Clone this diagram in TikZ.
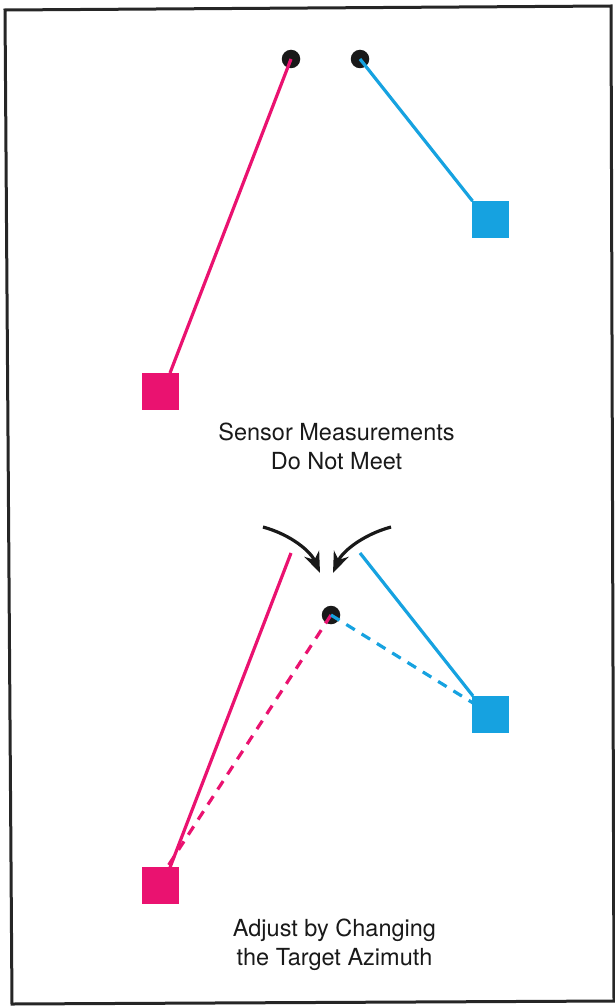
\documentclass[tikz,border=0pt]{standalone}
\usepackage{fontspec}
\setmainfont{TeX Gyre Heros}
\usetikzlibrary{arrows.meta}
\definecolor{pinkc}{RGB}{234,18,112}
\definecolor{bluec}{RGB}{22,162,224}
\tikzset{
  frame/.style={line width=3pt, draw=black!85},
  pinkline/.style={draw=pinkc, line width=3.2pt},
  blueline/.style={draw=bluec, line width=3.2pt},
  pinkdash/.style={pinkline, dash pattern=on 10pt off 8pt},
  bluedash/.style={blueline, dash pattern=on 10pt off 8pt},
  pinksq/.style={fill=pinkc, draw=none, minimum size=37pt, inner sep=0pt},
  bluesq/.style={fill=bluec, draw=none, minimum size=37pt, inner sep=0pt},
  dot/.style={circle, fill=black!90, draw=none, minimum size=18.5pt, inner sep=0pt},
  caption/.style={font=\fontsize{23.5}{29}\selectfont, anchor=base, inner sep=0pt, text=black!90},
  bendarrow/.style={line width=3.2pt, draw=black!90, -{Stealth[length=21pt, width=16pt]}}
}
\begin{document}
\begin{tikzpicture}[x=1pt, y=-1pt]
\useasboundingbox (0,0) rectangle (614,1006);
\draw[frame] (5,10) -- (611,6) -- (614,1001) -- (12,1004) -- cycle;

% top scene
\node[dot] (d1) at (291,59) {};
\node[dot] (d2) at (360,59) {};
\node[pinksq] (s1) at (160.5,391) {};
\node[bluesq] (s2) at (490,219) {};
\coordinate (s1t) at (170,373);
\coordinate (s2t) at (472.5,201);
\draw[pinkline] (d1.center) -- (s1t);
\draw[blueline] (d2.center) -- (s2t);
\node[caption] (t1) at (336.5,440) {Sensor Measurements};
\node[caption] (t2) at (336.5,469) {Do Not Meet};

% bottom scene
\node[pinksq] (s3) at (160.5,885.5) {};
\node[bluesq] (s4) at (490.5,714) {};
\coordinate (p3) at (291,553);
\coordinate (p4) at (360,553);
\coordinate (s3t) at (170,867.5);
\coordinate (s4t) at (473,696);
\draw[pinkline] (p3) -- (s3t);
\draw[blueline] (p4) -- (s4t);
\node[dot] (d3) at (331,615) {};
\coordinate (s3d) at (167,867.5);
\coordinate (s4d) at (473,703);
\draw[pinkdash] (d3.center) -- (s3d);
\draw[bluedash] (d3.center) -- (s4d);
\coordinate (a1) at (263,527);
\coordinate (a1e) at (320,573);
\coordinate (a2) at (391,527);
\coordinate (a2e) at (333,573);
\draw[bendarrow] (a1) .. controls (292,535) and (311,552) .. (a1e);
\draw[bendarrow] (a2) .. controls (362,535) and (342,552) .. (a2e);
\node[caption] (t3) at (334.5,936) {Adjust by Changing};
\node[caption] (t4) at (334.5,965) {the Target Azimuth};
\end{tikzpicture}
\end{document}
